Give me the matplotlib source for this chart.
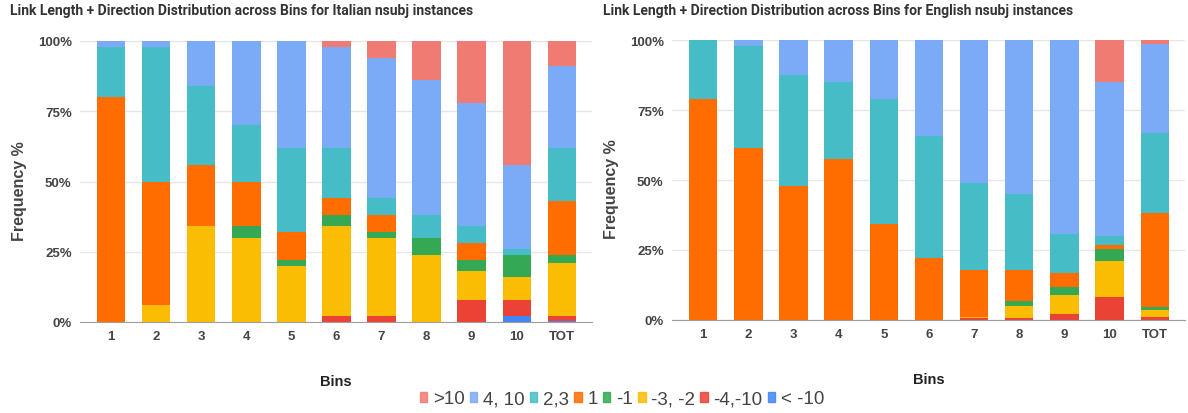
import matplotlib
matplotlib.use('Agg')
import matplotlib.pyplot as plt
import numpy as np
from matplotlib.patches import Patch

plt.rcParams['font.family'] = ['Liberation Sans', 'DejaVu Sans']

# -- categories and series (stack order bottom -> top)
bins = ['1', '2', '3', '4', '5', '6', '7', '8', '9', '10', 'TOT']
series = ['< -10', '-4,-10', '-3, -2', '-1', '1', '2,3', '4, 10', '>10']
colors = ['#4285f4', '#ea4335', '#fbbc04', '#34a853', '#ff6d01', '#46bdc6', '#7baaf7', '#f07b72']
legend_order = ['>10', '4, 10', '2,3', '1', '-1', '-3, -2', '-4,-10', '< -10']

# -- Italian values (%), one list per series, across bins
it_lt10  = [0, 0, 0, 0, 0, 0, 0, 0, 0, 2, 0.2]
it_m4m10 = [0, 0, 0, 0, 0, 2, 2, 0, 8, 6, 1.8]
it_m3m2  = [0, 6, 34, 30, 20, 32, 28, 24, 10, 8, 19]
it_m1    = [0, 0, 0, 4, 2, 4, 2, 6, 4, 8, 3]
it_1     = [80, 44, 22, 16, 10, 6, 6, 0, 6, 0, 19]
it_23    = [18, 48, 28, 20, 30, 18, 6, 8, 6, 2, 19]
it_410   = [2, 2, 16, 30, 38, 36, 50, 48, 44, 30, 29]
it_gt10  = [0, 0, 0, 0, 0, 2, 6, 14, 22, 44, 9]

# -- English values (%)
en_lt10  = [0, 0, 0, 0, 0, 0, 0, 0, 0, 0, 0]
en_m4m10 = [0, 0, 0, 0, 0, 0, 0.6, 0.6, 2.1, 8.1, 1.1]
en_m3m2  = [0, 0, 0, 0, 0, 0, 0.6, 4.3, 6.9, 12.9, 2.5]
en_m1    = [0, 0, 0, 0, 0, 0, 0, 2.0, 2.8, 4.2, 0.9]
en_1     = [79, 61.3, 47.9, 57.6, 34.3, 22, 16.7, 11, 4.9, 1.7, 33.7]
en_23    = [21, 36.6, 39.7, 27.3, 44.7, 43.6, 31, 27.2, 14, 3.1, 28.7]
en_410   = [0, 2.1, 12.4, 15.1, 21, 34.4, 51.1, 54.9, 69.3, 54.9, 31.6]
en_gt10  = [0, 0, 0, 0, 0, 0, 0, 0, 0, 15.1, 1.5]

it_data = [it_lt10, it_m4m10, it_m3m2, it_m1, it_1, it_23, it_410, it_gt10]
en_data = [en_lt10, en_m4m10, en_m3m2, en_m1, en_1, en_23, en_410, en_gt10]

W, H = 1188, 414
fig = plt.figure(figsize=(W / 100, H / 100), dpi=100)
txt = '#444444'


def draw(ax, data, title, title_x):
    x = np.arange(len(bins))
    bottom = np.zeros(len(bins))
    for vals, c in zip(data, colors):
        ax.bar(x, vals, bottom=bottom, width=0.63, color=c, edgecolor='none', zorder=3)
        bottom += np.array(vals)
    ax.set_ylim(0, 100)
    ax.set_xlim(-0.69, 10.67)
    ax.set_yticks([0, 25, 50, 75, 100])
    ax.set_yticklabels(['0%', '25%', '50%', '75%', '100%'])
    ax.set_xticks(x)
    ax.set_xticklabels(bins)
    ax.grid(axis='y', color='#e6e6e6', linewidth=1, zorder=0)
    for s in ['top', 'right', 'left']:
        ax.spines[s].set_visible(False)
    ax.spines['bottom'].set_color('#9e9e9e')
    ax.spines['bottom'].set_zorder(4)
    ax.tick_params(length=0, labelsize=9.5, labelcolor=txt, pad=6)
    for lb in ax.get_xticklabels() + ax.get_yticklabels():
        lb.set_fontweight('bold')
    ax.set_ylabel('Frequency %', fontsize=11.5, fontweight='bold', color=txt, va='center')
    ax.yaxis.set_label_coords(-0.118, 0.47)
    ax.set_xlabel('Bins', fontsize=10.5, fontweight='bold', color='#222222', labelpad=23)
    fig.text(title_x / W, 1 - 11 / H, title, fontsize=10, family=['Roboto', 'DejaVu Sans'],
             fontweight='bold', color='#333333', va='center')


ax1 = fig.add_axes([80 / W, (H - 323) / H, 512 / W, 281 / H])
draw(ax1, it_data, 'Link Length + Direction Distribution across Bins for Italian nsubj instances', 10)

ax2 = fig.add_axes([672 / W, (H - 321) / H, 513 / W, 280 / H])
draw(ax2, en_data, 'Link Length + Direction Distribution across Bins for English nsubj instances', 603)

handles = [Patch(color=colors[series.index(s)], alpha=0.85) for s in legend_order]
fig.legend(handles, legend_order, loc='center', bbox_to_anchor=(622 / W, 1 - 400 / H),
           ncol=8, frameon=False, fontsize=13.5, handlelength=0.4, handleheight=0.4,
           handletextpad=0.3, columnspacing=0.28, labelcolor=txt)

fig.savefig('out.png', dpi=100)
